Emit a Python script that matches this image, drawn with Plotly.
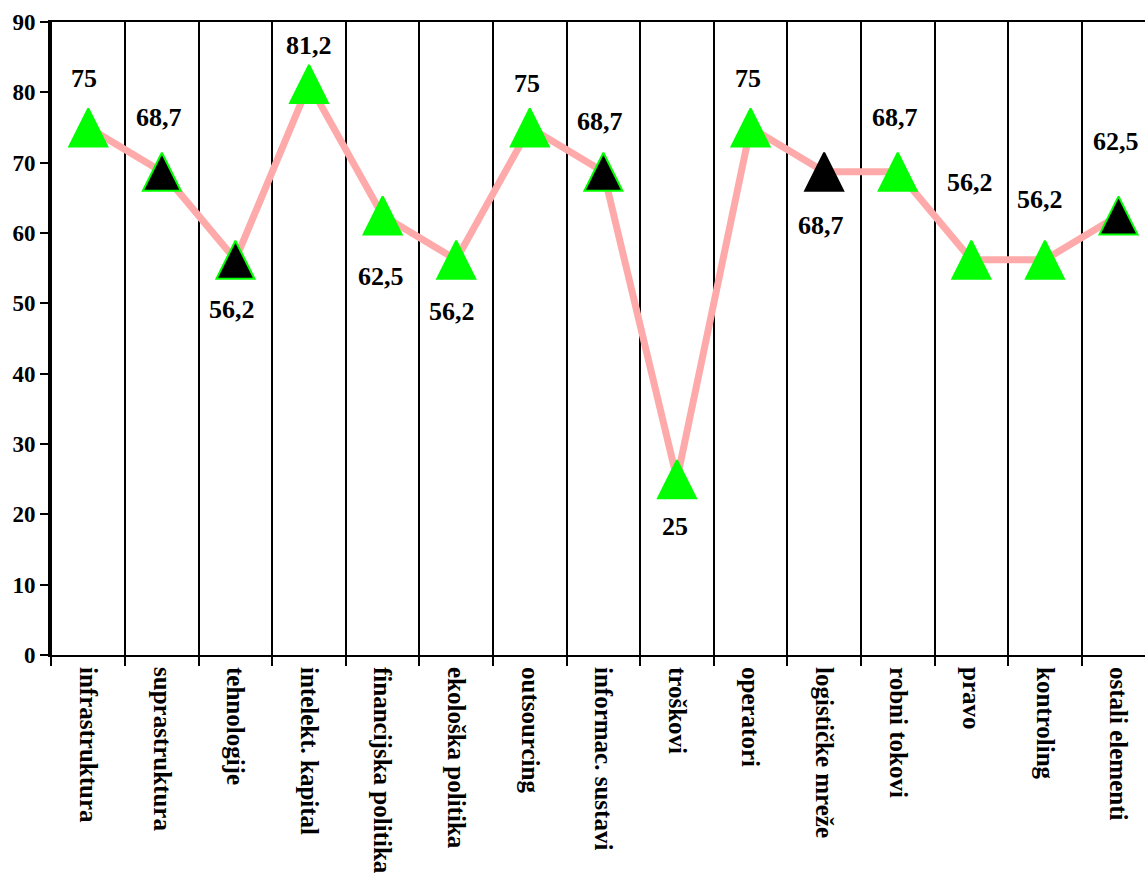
import plotly.graph_objects as go

# Category names and scores
categories = [
    "infrastruktura", "suprastruktura", "tehnologije", "intelekt. kapital",
    "financijska politika", "ekološka politika", "outsourcing",
    "informac. sustavi", "troškovi", "operatori", "logističke mreže",
    "robni tokovi", "pravo", "kontroling", "ostali elementi",
]
scores = [75, 68.7, 56.2, 81.2, 62.5, 56.2, 75, 68.7, 25, 75, 68.7, 68.7, 56.2, 56.2, 62.5]

# Marker fill per category (green / black)
fill_colors = [
    "#00FF00", "#000000", "#000000", "#00FF00", "#00FF00", "#00FF00", "#00FF00",
    "#000000", "#00FF00", "#00FF00", "#000000", "#00FF00", "#00FF00", "#00FF00",
    "#000000",
]
edge_colors = [
    "#00FF00", "#00FF00", "#00FF00", "#00FF00", "#00FF00", "#00FF00", "#00FF00",
    "#00FF00", "#00FF00", "#00FF00", "#000000", "#00FF00", "#00FF00", "#00FF00",
    "#00FF00",
]

# Value label offsets in pixels (vertical, horizontal)
label_dy = [-49, -54, 50, -38, 61, 52, -44, -50, 47, -49, 54, -54, -77, -60, -74]
label_dx = [-4, -3, -3, 0, -2, -4, -3, -3, -2, -3, -3, -3, -1, -5, -3]

SERIF = "Times New Roman, Liberation Serif, serif"
PX_PER_UNIT = 633 / 90.0
MARKER_SIZE = 38
shift_units = (MARKER_SIZE / 2) / PX_PER_UNIT


def fmt(v):
    s = f"{v:g}"
    return s.replace(".", ",")


fig = go.Figure()

# Connecting line
fig.add_trace(go.Scatter(
    x=categories, y=scores, mode="lines",
    line=dict(color="#FFAAAA", width=7),
    hoverinfo="skip", showlegend=False,
))

# Triangular markers (tip-anchored symbol, lifted by half its height on a twin axis)
fig.add_trace(go.Scatter(
    x=categories, y=scores, mode="markers", yaxis="y2",
    marker=dict(symbol="arrow-up", size=MARKER_SIZE, color=fill_colors,
                line=dict(color=edge_colors, width=2)),
    showlegend=False,
))

for c, v, dy, dx in zip(categories, scores, label_dy, label_dx):
    fig.add_annotation(
        x=c, y=v, text="<b>" + fmt(v) + "</b>", showarrow=False,
        xshift=dx, yshift=-dy,
        font=dict(family=SERIF, size=26, color="black"),
    )

fig.update_layout(
    width=1145, height=881,
    margin=dict(l=50, r=0, t=22, b=226),
    paper_bgcolor="white", plot_bgcolor="white",
    showlegend=False,
    xaxis=dict(
        type="category", range=[-0.52, 14.36],
        tickson="boundaries", ticks="outside", ticklen=9, tickwidth=2,
        tickcolor="black",
        showgrid=True, gridcolor="black", gridwidth=2,
        showline=True, linecolor="black", linewidth=2, mirror=True,
        tickangle=90, ticklabelstandoff=5,
        tickvals=categories,
        ticktext=["<b>" + c + "</b>" for c in categories],
        tickfont=dict(family=SERIF, size=25, color="black"),
    ),
    yaxis=dict(
        range=[0, 90], dtick=10, showgrid=False, zeroline=False,
        ticks="outside", ticklen=8, tickwidth=2, tickcolor="black",
        showline=True, linecolor="black", linewidth=2,
        tickprefix="<b>", ticksuffix="</b>",
        tickfont=dict(family=SERIF, size=23, color="black"),
    ),
    yaxis2=dict(
        overlaying="y", range=[-shift_units, 90 - shift_units],
        visible=False,
    ),
)

fig.write_html("out.html")
